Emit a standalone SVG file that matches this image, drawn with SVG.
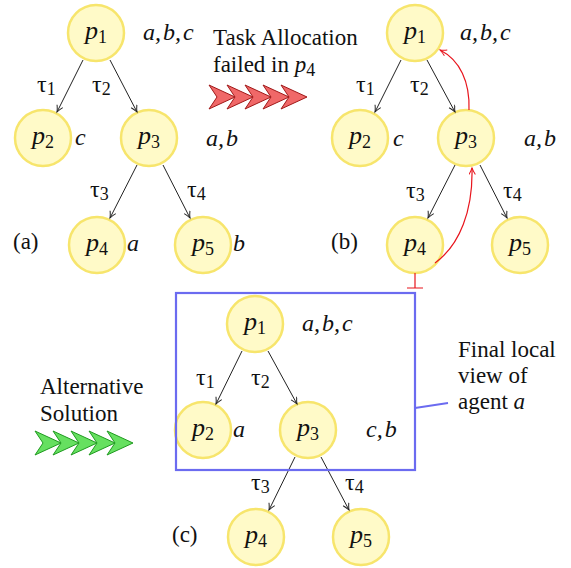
<svg xmlns="http://www.w3.org/2000/svg" xmlns:xlink="http://www.w3.org/1999/xlink" width="571" height="568" viewBox="0 0 571 568" font-family="'Liberation Serif', 'Times New Roman', Times, 'DejaVu Serif', serif">
<style>
text{font-family:'Liberation Serif','Times New Roman',Times,'DejaVu Serif',serif;fill:#111}
.node circle{fill:#fffac8;stroke:#f7e56c;stroke-width:2.5}
.lbl{font-size:26px;text-anchor:middle}
.p{font-style:italic}
.sub{font-size:18px}
.it{font-style:italic;font-size:24px}
.tau{font-size:24px}
.txt{font-size:23px}
.conn line{stroke:#222;stroke-width:1;fill:none;marker-end:url(#ah)}
.red{stroke:#e8141c;stroke-width:1.2;fill:none}
.rch{fill:#f06868;stroke:#a01818;stroke-width:1}
.gch{fill:#66e060;stroke:#1f9a1f;stroke-width:1}
</style>
<defs>
<marker id="ah" markerWidth="10" markerHeight="10" refX="7" refY="3.5" orient="auto" markerUnits="userSpaceOnUse">
<path d="M0.5,0.3 Q4,2.5 7,3.5 Q4,4.5 0.5,6.7" fill="none" stroke="#222" stroke-width="1"/>
</marker>
<marker id="ahr" markerWidth="10" markerHeight="10" refX="7" refY="3.5" orient="auto" markerUnits="userSpaceOnUse">
<path d="M0.5,0.3 Q4,2.5 7,3.5 Q4,4.5 0.5,6.7" fill="none" stroke="#e8141c" stroke-width="1"/>
</marker>
<path id="chev" d="M0,-12 L26,0 L0,12 L8,0 Z"/>
</defs>

<!-- (a) -->
<g id="a-p1" class="node"><circle cx="96" cy="33" r="28"/><text class="lbl" x="96" y="39"><tspan class="p">p</tspan><tspan class="sub" dy="4">1</tspan></text></g>
<g id="a-p2" class="node"><circle cx="43" cy="138" r="28"/><text class="lbl" x="43" y="144"><tspan class="p">p</tspan><tspan class="sub" dy="4">2</tspan></text></g>
<g id="a-p3" class="node"><circle cx="149" cy="138" r="28"/><text class="lbl" x="149" y="144"><tspan class="p">p</tspan><tspan class="sub" dy="4">3</tspan></text></g>
<g id="a-p4" class="node"><circle cx="97" cy="245" r="28"/><text class="lbl" x="97" y="251"><tspan class="p">p</tspan><tspan class="sub" dy="4">4</tspan></text></g>
<g id="a-p5" class="node"><circle cx="203" cy="245" r="28"/><text class="lbl" x="203" y="251"><tspan class="p">p</tspan><tspan class="sub" dy="4">5</tspan></text></g>

<!-- (b) -->
<g id="b-p1" class="node"><circle cx="415" cy="33" r="28"/><text class="lbl" x="415" y="39"><tspan class="p">p</tspan><tspan class="sub" dy="4">1</tspan></text></g>
<g id="b-p2" class="node"><circle cx="360" cy="138" r="28"/><text class="lbl" x="360" y="144"><tspan class="p">p</tspan><tspan class="sub" dy="4">2</tspan></text></g>
<g id="b-p3" class="node"><circle cx="466" cy="138" r="28"/><text class="lbl" x="466" y="144"><tspan class="p">p</tspan><tspan class="sub" dy="4">3</tspan></text></g>
<g id="b-p4" class="node"><circle cx="415" cy="245" r="28"/><text class="lbl" x="415" y="251"><tspan class="p">p</tspan><tspan class="sub" dy="4">4</tspan></text></g>
<g id="b-p5" class="node"><circle cx="520" cy="245" r="28"/><text class="lbl" x="520" y="251"><tspan class="p">p</tspan><tspan class="sub" dy="4">5</tspan></text></g>

<!-- (c) -->
<g id="c-p1" class="node"><circle cx="255" cy="324" r="28"/><text class="lbl" x="255" y="330"><tspan class="p">p</tspan><tspan class="sub" dy="4">1</tspan></text></g>
<g id="c-p2" class="node"><circle cx="203" cy="430" r="28"/><text class="lbl" x="203" y="436"><tspan class="p">p</tspan><tspan class="sub" dy="4">2</tspan></text></g>
<g id="c-p3" class="node"><circle cx="308" cy="430" r="28"/><text class="lbl" x="308" y="436"><tspan class="p">p</tspan><tspan class="sub" dy="4">3</tspan></text></g>
<g id="c-p4" class="node"><circle cx="256" cy="537" r="28"/><text class="lbl" x="256" y="543"><tspan class="p">p</tspan><tspan class="sub" dy="4">4</tspan></text></g>
<g id="c-p5" class="node"><circle cx="361" cy="537" r="28"/><text class="lbl" x="361" y="543"><tspan class="p">p</tspan><tspan class="sub" dy="4">5</tspan></text></g>

<g id="connectors" class="conn">
<line x1="83" y1="60" x2="57" y2="112"/>
<line x1="110" y1="60" x2="137" y2="112"/>
<line x1="137" y1="165" x2="110" y2="218"/>
<line x1="163" y1="165" x2="190" y2="218"/>
<line x1="401" y1="60" x2="375" y2="112"/>
<line x1="427" y1="60" x2="455" y2="112"/>
<line x1="455" y1="165" x2="428" y2="218"/>
<line x1="480" y1="165" x2="507" y2="218"/>
<line x1="242" y1="351" x2="216" y2="404"/>
<line x1="268" y1="351" x2="297" y2="404"/>
<line x1="295" y1="457" x2="269" y2="510"/>
<line x1="321" y1="457" x2="349" y2="510"/>
<path class="red" d="M469,110 C470,82 460,60 440,50" marker-end="url(#ahr)"/>
<path class="red" d="M435,263 C460,245 473,210 472,168" marker-end="url(#ahr)"/>
<path class="red" d="M415,273 V288 M407,288 H423"/>
<line x1="415" y1="408" x2="448" y2="403" style="stroke:#6b6bf0;stroke-width:2;marker-end:none"/>
</g>

<rect id="view-box" x="176" y="293" width="239" height="177" fill="none" stroke="#6b6bf0" stroke-width="2.2"/>

<!-- labels (a) -->
<text class="it" x="143" y="40">a,<tspan dx="2">b,</tspan><tspan dx="2">c</tspan></text>
<text class="it" x="75" y="145">c</text>
<text class="it" x="206" y="146">a,<tspan dx="2">b</tspan></text>
<text class="it" x="127" y="251">a</text>
<text class="it" x="233" y="251">b</text>
<text class="txt" x="13" y="249">(a)</text>
<text class="tau" x="37" y="92">τ<tspan class="sub" dy="3">1</tspan></text>
<text class="tau" x="92" y="92">τ<tspan class="sub" dy="3">2</tspan></text>
<text class="tau" x="90" y="197">τ<tspan class="sub" dy="3">3</tspan></text>
<text class="tau" x="187" y="197">τ<tspan class="sub" dy="3">4</tspan></text>

<!-- labels (b) -->
<text class="it" x="460" y="40">a,<tspan dx="2">b,</tspan><tspan dx="2">c</tspan></text>
<text class="it" x="393" y="146">c</text>
<text class="it" x="524" y="146">a,<tspan dx="2">b</tspan></text>
<text class="txt" x="331" y="249">(b)</text>
<text class="tau" x="356" y="92">τ<tspan class="sub" dy="3">1</tspan></text>
<text class="tau" x="410" y="92">τ<tspan class="sub" dy="3">2</tspan></text>
<text class="tau" x="406" y="198">τ<tspan class="sub" dy="3">3</tspan></text>
<text class="tau" x="503" y="198">τ<tspan class="sub" dy="3">4</tspan></text>

<!-- labels (c) -->
<text class="it" x="302" y="331">a,<tspan dx="2">b,</tspan><tspan dx="2">c</tspan></text>
<text class="it" x="233" y="437">a</text>
<text class="it" x="366" y="437">c,<tspan dx="2">b</tspan></text>
<text class="txt" x="172" y="542">(c)</text>
<text class="tau" x="196" y="385">τ<tspan class="sub" dy="3">1</tspan></text>
<text class="tau" x="251" y="385">τ<tspan class="sub" dy="3">2</tspan></text>
<text class="tau" x="251" y="490">τ<tspan class="sub" dy="3">3</tspan></text>
<text class="tau" x="345" y="490">τ<tspan class="sub" dy="3">4</tspan></text>

<!-- captions -->
<text class="txt" x="213" y="45">Task Allocation</text>
<text class="txt" x="213" y="72">failed in <tspan class="p">p</tspan><tspan class="sub" dy="4">4</tspan></text>
<text class="txt" x="40" y="394">Alternative</text>
<text class="txt" x="40" y="421">Solution</text>
<text class="txt" x="458" y="357">Final local</text>
<text class="txt" x="458" y="383">view of</text>
<text class="txt" x="458" y="409">agent <tspan class="p">a</tspan></text>

<g id="red-chevrons" class="rch">
<use xlink:href="#chev" x="209" y="97"/>
<use xlink:href="#chev" x="227" y="97"/>
<use xlink:href="#chev" x="245" y="97"/>
<use xlink:href="#chev" x="263" y="97"/>
<use xlink:href="#chev" x="281" y="97"/>
</g>
<g id="green-chevrons" class="gch">
<use xlink:href="#chev" x="35" y="443"/>
<use xlink:href="#chev" x="53" y="443"/>
<use xlink:href="#chev" x="71" y="443"/>
<use xlink:href="#chev" x="89" y="443"/>
<use xlink:href="#chev" x="107" y="443"/>
</g>
</svg>
